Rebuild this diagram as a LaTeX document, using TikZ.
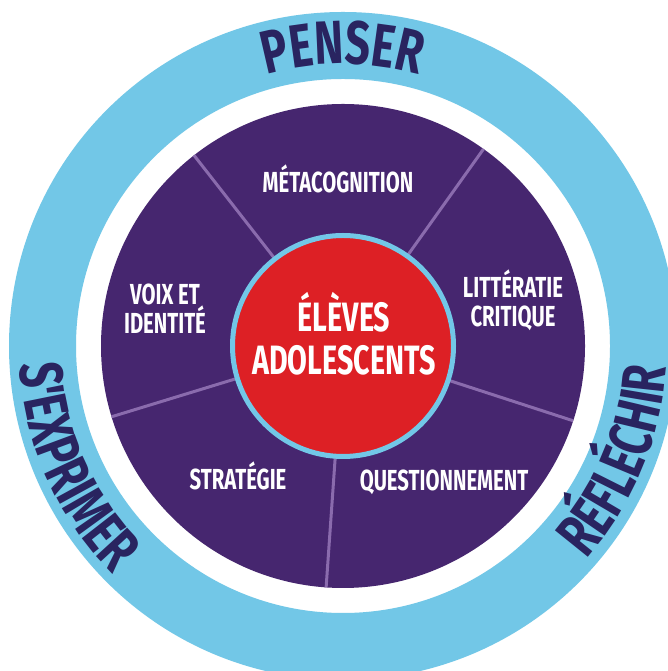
\documentclass[tikz,border=0pt]{standalone}
\usepackage{fontspec}
\usetikzlibrary{calc,decorations.text}
\newfontfamily\bebas[FakeStretch=0.7]{Fira Sans}
\newfontfamily\bebasring[FakeStretch=0.72]{Fira Sans}
\definecolor{ringblue}{HTML}{72C7E7}
\definecolor{discpurple}{HTML}{46266F}
\definecolor{spokecol}{HTML}{8A6BAD}
\definecolor{hubred}{HTML}{DD2025}
\definecolor{navy}{HTML}{292460}
\newcommand{\ringfont}{\bebasring\bfseries\fontsize{61}{61}\selectfont}
\tikzset{
  x=1pt, y=1pt,
  spokeline/.style={spokecol, line width=3pt},
  lbl/.style={white, anchor=base, inner sep=0, font=\bebas\bfseries\fontsize{29}{29}\selectfont},
  hubtxt/.style={white, anchor=base, inner sep=0, font=\bebas\bfseries\fontsize{41}{41}\selectfont},
  ringword/.style={decorate, decoration={text along path, text align=center, text color=navy, text={|\ringfont|#1}}},
}
\begin{document}
\begin{tikzpicture}
\useasboundingbox (0,0) rectangle (668,671);
\clip (0,0) rectangle (668,671);
\fill[white] (0,0) rectangle (668,671);
\coordinate (C) at (343,325);
% outer ring
\fill[ringblue, even odd rule] (C) circle[radius=334] (C) circle[radius=267];
% disc
\node[circle, fill=discpurple, minimum size=484pt, inner sep=0] (disc) at (C) {};
% spokes
\foreach \a in {128,54.5,-18,-94,197}
  \draw[spokeline] ($(C)+(\a:100)$) -- ($(C)+(\a:242)$);
% hub
\node[circle, fill=hubred, draw=ringblue, line width=5pt, minimum size=221pt, inner sep=0] (hub) at (C) {};
\node[hubtxt] (t1) at (344,339.5) {ÉLÈVES};
\node[hubtxt] (t2) at (344,296) {ADOLESCENTS};
% labels
\node[lbl] (meta) at (338,478.4) {MÉTACOGNITION};
\node[lbl] (voix1) at (165,366) {VOIX ET};
\node[lbl] (voix2) at (165,337) {IDENTITÉ};
\node[lbl] (litt1) at (513,373) {LITTÉRATIE};
\node[lbl] (litt2) at (513,344) {CRITIQUE};
\node[lbl] (strat) at (238,181) {STRATÉGIE};
\node[lbl] (quest) at (444,180) {QUESTIONNEMENT};
% ring words
\path[ringword=PENSER]
  ($(C)+(170:282)$) arc[start angle=170, end angle=10, radius=282];
\path[ringword=S'EXPRIMER]
  ($(C)+(144:324)$) arc[start angle=144, end angle=264, radius=324];
\path[ringword=RÉFLÉCHIR]
  ($(C)+(-82.5:324)$) arc[start angle=-82.5, end angle=37.5, radius=324];
\end{tikzpicture}
\end{document}
